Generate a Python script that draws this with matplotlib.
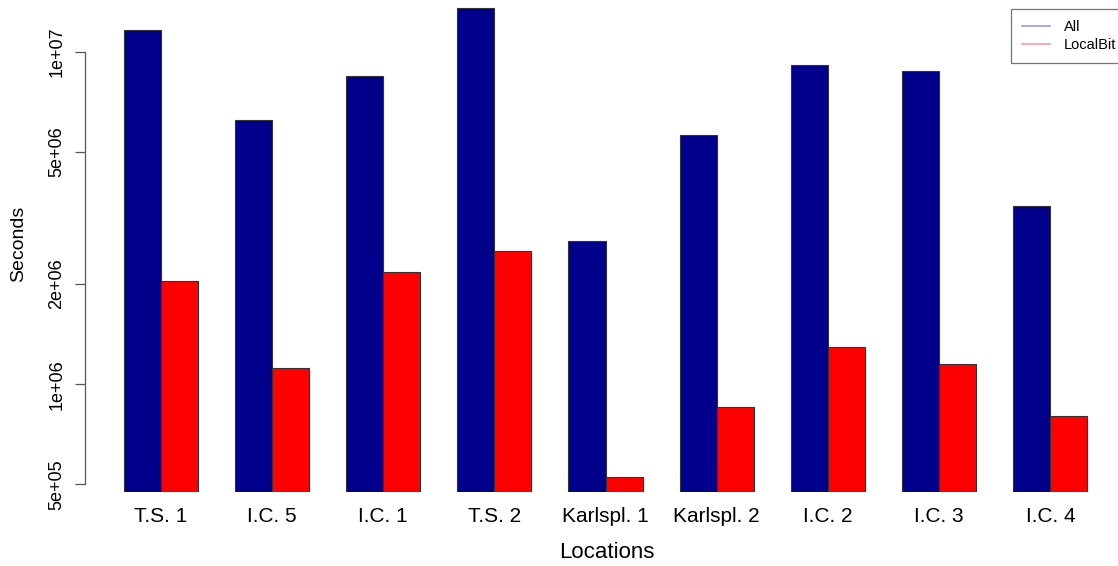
import numpy as np
import matplotlib.pyplot as plt
from matplotlib.lines import Line2D

# ---- data: seconds per location, all vs. LocalBit ----
locations = ["T.S. 1", "I.C. 5", "I.C. 1", "T.S. 2", "Karlspl. 1",
             "Karlspl. 2", "I.C. 2", "I.C. 3", "I.C. 4"]
all_secs = [1.16e7, 6.21e6, 8.47e6, 1.35e7, 2.70e6, 5.60e6, 9.14e6, 8.77e6, 3.43e6]
localbit_secs = [2.05e6, 1.12e6, 2.17e6, 2.51e6, 5.27e5, 8.54e5, 1.29e6, 1.15e6, 8.02e5]
yticks = [5e5, 1e6, 2e6, 5e6, 1e7]
ytick_labels = ["5e+05", "1e+06", "2e+06", "5e+06", "1e+07"]

YMIN, YMAX = 4.74e5, 1.43e7
COL_ALL = "#00008B"
COL_LB = "#FF0000"

plt.rcParams['font.family'] = ['Liberation Sans', 'DejaVu Sans']

W, H = 1118, 566
fig = plt.figure(figsize=(W / 100, H / 100), dpi=100)
# plot region is a bit wider than the figure, like the cropped original device
ax = fig.add_axes([85 / W, 74 / H, 1041 / W, 492 / H])

# barplot(beside=TRUE) layout: 2 bars + 1 unit gap per group
n = len(locations)
grp = np.arange(n) * 3
x_all = grp + 1.5
x_lb = grp + 2.5
centers = grp + 2

ax.bar(x_all, np.array(all_secs) - YMIN, bottom=YMIN, width=1.0,
       color=COL_ALL, edgecolor="#333333", linewidth=0.8)
ax.bar(x_lb, np.array(localbit_secs) - YMIN, bottom=YMIN, width=1.0,
       color=COL_LB, edgecolor="#333333", linewidth=0.8)

ax.set_yscale("log")
ax.set_ylim(YMIN, YMAX)
ax.set_xlim(-0.04, 28.04)

ax.set_yticks(yticks)
ax.set_yticklabels(ytick_labels, rotation=90, va="center", ha="right", fontsize=13)
ax.yaxis.set_minor_locator(plt.NullLocator())
ax.tick_params(axis="y", length=7.2, width=0.9, color="#555555", pad=7)

ax.set_xticks(centers)
ax.set_xticklabels(locations, fontsize=15)
ax.tick_params(axis="x", length=0, pad=11)

for s in ["top", "right", "bottom"]:
    ax.spines[s].set_visible(False)
ax.spines["left"].set_bounds(yticks[0], yticks[-1])
ax.spines["left"].set_color("#555555")
ax.spines["left"].set_linewidth(0.9)

fig.text(607 / W, 1 - 552 / H, "Locations", fontsize=16, ha="center", va="center")
fig.text(19 / W, 1 - 244 / H, "Seconds", fontsize=14, ha="center", va="center",
         rotation=90)

handles = [Line2D([], [], color="#9999DD", lw=1.2),
           Line2D([], [], color="#FF9999", lw=1.2)]
leg = fig.legend(handles, ["All", "LocalBit"], loc="upper left",
                 bbox_to_anchor=(1011 / W, 1 - 9 / H), fontsize=10.5,
                 frameon=True, fancybox=False, handlelength=1.9,
                 handletextpad=0.95, borderpad=0.75, labelspacing=0.3,
                 borderaxespad=0)
leg.get_frame().set_edgecolor("#555555")
leg.get_frame().set_linewidth(0.9)

fig.savefig("out.png", dpi=100)
